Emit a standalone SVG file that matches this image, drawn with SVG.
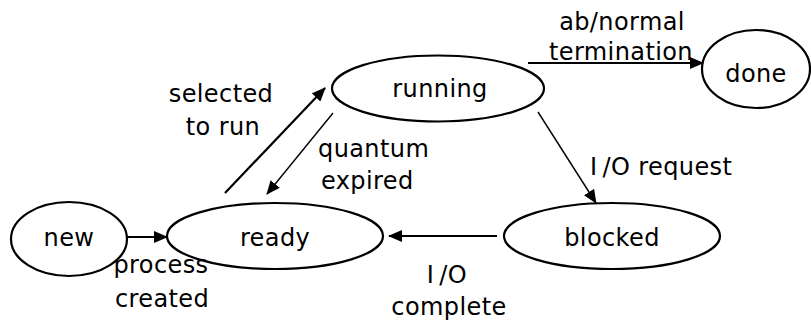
<svg xmlns="http://www.w3.org/2000/svg" width="811" height="323" viewBox="0 0 811 323">
  <style>
    .state { fill: none; stroke: #000000; stroke-width: 2.2; }
    .edge { stroke: #000000; stroke-width: 2.2; fill: none; }
    .edge.thin { stroke-width: 1.4; }
    text { font-family: "DejaVu Sans", "Liberation Sans", sans-serif; font-size: 24px; letter-spacing: 0.4px; fill: #000000; }
    .c { text-anchor: middle; }
  </style>
  <defs>
    <marker id="arrow" markerUnits="userSpaceOnUse" markerWidth="14" markerHeight="12" viewBox="0 0 14 12" refX="13" refY="6" orient="auto">
      <path d="M0,0 L14,6 L0,12 Z" fill="#000000"/>
    </marker>
  </defs>

  <!-- transitions -->
  <g id="connectors">
    <line class="edge" x1="127" y1="237" x2="167" y2="237" marker-end="url(#arrow)"/>
    <line class="edge" x1="497" y1="236" x2="389" y2="236" marker-end="url(#arrow)"/>
    <line class="edge" x1="528" y1="63" x2="703" y2="63" marker-end="url(#arrow)"/>
    <line class="edge" x1="225" y1="193" x2="325" y2="88" marker-end="url(#arrow)"/>
    <line class="edge thin" x1="333" y1="113" x2="267" y2="194" marker-end="url(#arrow)"/>
    <line class="edge thin" x1="538" y1="112" x2="596" y2="203" marker-end="url(#arrow)"/>
  </g>

  <!-- states -->
  <g id="node-new">
    <ellipse class="state" cx="69" cy="239" rx="58" ry="37"/>
    <text class="c" x="69" y="246">new</text>
  </g>
  <g id="node-ready">
    <ellipse class="state" cx="275" cy="236" rx="108" ry="33"/>
    <text class="c" x="275" y="246">ready</text>
  </g>
  <g id="node-running">
    <ellipse class="state" cx="438" cy="88.5" rx="106" ry="33"/>
    <text class="c" x="440" y="97">running</text>
  </g>
  <g id="node-blocked">
    <ellipse class="state" cx="612" cy="236" rx="108" ry="33"/>
    <text class="c" x="612" y="246">blocked</text>
  </g>
  <g id="node-done">
    <ellipse class="state" cx="756" cy="69" rx="54" ry="39"/>
    <text class="c" x="756" y="82">done</text>
  </g>

  <!-- transition labels -->
  <g id="labels">
    <text class="c" x="221" y="102">selected</text>
    <text class="c" x="223" y="135">to run</text>
    <text x="318" y="157">quantum</text>
    <text x="321" y="189">expired</text>
    <text class="c" x="622" y="30">ab/normal</text>
    <text class="c" x="621" y="60">termination</text>
    <text x="590" y="175">I<tspan dx="5">/O request</tspan></text>
    <text class="c" x="161" y="273">process</text>
    <text class="c" x="162" y="307">created</text>
    <text class="c" x="447" y="283">I<tspan dx="5">/O</tspan></text>
    <text class="c" x="449" y="315">complete</text>
  </g>
</svg>
